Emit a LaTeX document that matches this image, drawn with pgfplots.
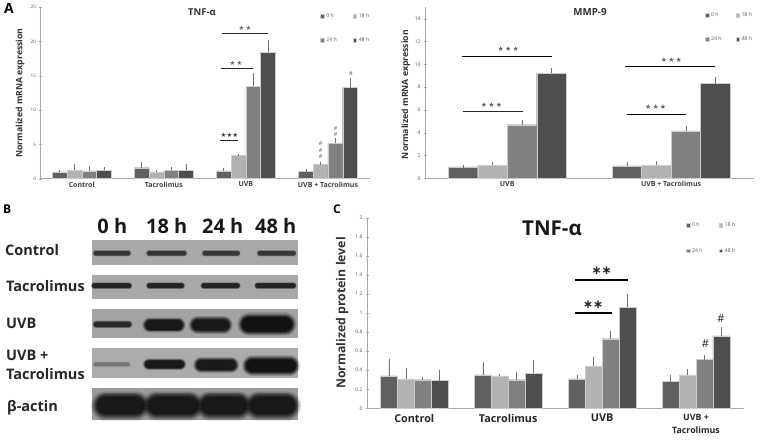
\documentclass[border=0pt]{standalone}
\usepackage{pgfplots}
\usepackage{pgfplotstable}
\usepackage{fontspec}
\pgfplotsset{compat=1.18}
\setmainfont{Open Sans}
\newfontfamily\symf{DejaVu Sans}
\definecolor{cA}{HTML}{606060}
\definecolor{cB}{HTML}{B2B2B2}
\definecolor{cC}{HTML}{808080}
\definecolor{cD}{HTML}{4E4E4E}
\definecolor{axc}{HTML}{A8A8A8}
\definecolor{tk}{HTML}{555555}

% x, then value and upper error of 0 h, 18 h, 24 h, 48 h
\pgfplotstableread{
x a ae b be c ce d de
0 1.00 0.15 1.30 0.70 1.15 0.55 1.20 0.30
1 1.60 0.70 1.00 0.15 1.20 0.30 1.25 0.70
2 1.15 0.25 3.40 0.10 13.50 1.70 18.45 1.55
3 1.05 0.20 2.10 0.10 5.15 0.55 13.30 1.15
}\tnfm
\pgfplotstableread{
x a ae b be c ce d de
0 1.00 0.05 1.15 0.15 4.70 0.30 9.20 0.40
1 1.10 0.20 1.15 0.25 4.15 0.35 8.30 0.45
}\mmp
\pgfplotstableread{
x a ae b be c ce d de
0 0.34 0.16 0.31 0.10 0.30 0.02 0.29 0.10
1 0.35 0.12 0.34 0.01 0.30 0.07 0.37 0.12
2 0.31 0.03 0.44 0.09 0.73 0.07 1.06 0.13
3 0.28 0.06 0.35 0.05 0.51 0.04 0.76 0.08
}\tnfp

\pgfplotsset{
  panel/.style={
    scale only axis, clip=false,
    axis lines=left, axis line style={draw=axc,-},
    tick style={draw=axc},
    ymin=0,
    xtick style={draw=none},
    ytick pos=left, xtick pos=bottom,
    minor tick length=1.5pt, major tick length=2.5pt,
    minor x tick style={draw=axc},
    minor tick style={draw=axc},
    /pgf/number format/assume math mode=true,
    legend columns=2, legend cell align=left,
    legend image code/.code={\fill[##1] (0pt,-1.8pt) rectangle (3.6pt,1.8pt);},
  },
  bars/.style={ybar, bar width=0.18, bar shift=0pt, draw=black!20, line width=0.4pt, fill=#1,
    error bars/y dir=plus, error bars/y explicit,
    error bars/error bar style={draw=black!55, line width=0.5pt},
    error bars/error mark options={draw=black!55, mark size=1.2pt, line width=0.5pt}},
}
\newcommand\fourbars[1]{%
  \addplot[bars=cA] table[x expr=\thisrow{x}-0.27,y=a,y error=ae] {#1};
  \addplot[bars=cB] table[x expr=\thisrow{x}-0.09,y=b,y error=be] {#1};
  \addplot[bars=cC] table[x expr=\thisrow{x}+0.09,y=c,y error=ce] {#1};
  \addplot[bars=cD] table[x expr=\thisrow{x}+0.27,y=d,y error=de] {#1};
}
% Western-blot band, in zoomed px of panel B: x1 x2 y thickness grey
\newcommand\band[5]{%
  \pgfmathsetmacro\bth{#4/3}
  \pgfmathsetmacro\xa{(#1+#4/2)/3}
  \pgfmathsetmacro\xb{(#2-#4/2)/3}
  \pgfmathsetmacro\yb{245-#3/3}
  \foreach \w/\o in {1.32/0.10,1.24/0.12,1.16/0.16,1.08/0.2,1.0/0.28,0.92/0.36,0.84/0.5,0.76/0.7}{
    \draw[line cap=round,line width=\w*\bth pt,draw=#5,opacity=\o] (\xa,\yb)--(\xb,\yb);}
}
\newcommand\blot[3]{\fill[#3] (91.7,{245-#1/3}) rectangle (298.3,{245-#2/3});}
\newcommand\hashA[2]{\node[font=\fontsize{5.5}{6}\selectfont,text=black!65] at (axis cs:#1,#2) {\#};}
\newcommand\starsM[2]{\node[font=\symf\fontsize{7}{8}\selectfont,text=black!60] at (axis cs:#1,#2) {★\,★\,★};}

\begin{document}
\begin{tikzpicture}[x=1pt,y=1pt]
\path[use as bounding box] (0,0) rectangle (761,440);

% ---------- A left
\begin{axis}[panel, at={(40.7pt,261.3pt)}, width=328.3pt, height=171.4pt,
  xmin=-0.5, xmax=3.5, ymax=25,
  xtick={0,1,2,3}, xticklabels={Control,Tacrolimus,UVB,UVB + Tacrolimus},
  minor xtick={-0.5,0.5,1.5,2.5,3.5},
  ytick={0,5,10,15,20,25}, minor ytick={1,2,3,4,6,7,8,9,11,12,13,14,16,17,18,19,21,22,23,24},
  yticklabel style={font=\fontsize{4.6}{5}\selectfont, text=tk},
  xticklabel style={font=\fontsize{7}{8}\selectfont\bfseries, text=black!75, yshift=1.5pt},
  ylabel={Normalized mRNA expression},
  ylabel style={font=\fontsize{8.7}{10}\selectfont\bfseries, text=black!80},
  every axis y label/.append style={at={(axis description cs:-0.063,0.5)},anchor=center},
  legend style={at={(0.851,0.978)},anchor=north west,draw=none,fill=none,inner sep=0pt,
    font=\fontsize{5.2}{6}\selectfont, text=tk, row sep=14.5pt,
    /tikz/column 2/.style={column sep=14pt}},
]
\fourbars{\tnfm}
\legend{0 h,18 h,24 h,48 h}
\draw[black!85,line width=0.8pt] (axis cs:1.71,21.15)--(axis cs:2.27,21.15);
\draw[black!85,line width=0.8pt] (axis cs:1.70,16.1)--(axis cs:2.09,16.1);
\draw[black!85,line width=1pt] (axis cs:1.69,5.5)--(axis cs:1.906,5.5);
\node[font=\symf\fontsize{6.5}{7}\selectfont,text=black!60] at (axis cs:1.99,21.95) {★\,★};
\node[font=\symf\fontsize{6.5}{7}\selectfont,text=black!60] at (axis cs:1.88,16.85) {★\,★};
\node[font=\symf\fontsize{6.5}{7}\selectfont,text=black!75] at (axis cs:1.80,6.4) {★★★};
\hashA{3.28}{15.3}\hashA{3.095}{7.35}\hashA{3.095}{6.4}\hashA{2.91}{5.06}\hashA{2.91}{4.18}\hashA{2.91}{3.2}
\end{axis}
\node[font=\fontsize{9.5}{11}\selectfont\bfseries,text=black!80] at (202,{440-12}) {TNF-α};

% ---------- A right
\begin{axis}[panel, at={(425.3pt,261.7pt)}, width=327.7pt, height=171pt,
  xmin=-0.5, xmax=1.5, ymax=15,
  xtick={0,1}, xticklabels={UVB,UVB + Tacrolimus},
  minor xtick={-0.5,0.5,1.5},
  ytick={0,2,4,6,8,10,12,14}, minor ytick={1,3,5,7,9,11,13},
  yticklabel style={font=\fontsize{5}{6}\selectfont, text=tk},
  xticklabel style={font=\fontsize{7}{8}\selectfont\bfseries, text=black!75, yshift=1.5pt},
  ylabel={Normalized mRNA expression},
  ylabel style={font=\fontsize{8.7}{10}\selectfont\bfseries, text=black!80},
  every axis y label/.append style={at={(axis description cs:-0.059,0.49)},anchor=center},
  legend style={at={(0.853,0.984)},anchor=north west,draw=none,fill=none,inner sep=0pt,
    font=\fontsize{5.2}{6}\selectfont, text=tk, row sep=15pt,
    /tikz/column 2/.style={column sep=12pt}},
]
\fourbars{\mmp}
\legend{0 h,18 h,24 h,48 h}
\draw[black,line width=1pt] (axis cs:-0.274,10.7)--(axis cs:0.274,10.7);
\draw[black!85,line width=1pt] (axis cs:-0.27,5.83)--(axis cs:0.094,5.83);
\draw[black,line width=1pt] (axis cs:0.72,9.83)--(axis cs:1.27,9.83);
\draw[black,line width=1pt] (axis cs:0.732,5.63)--(axis cs:1.093,5.63);
\starsM{0.006}{11.3}\starsM{-0.096}{6.45}\starsM{1.002}{10.4}\starsM{0.906}{6.27}
\end{axis}
\node[font=\fontsize{9.8}{11}\selectfont\bfseries,text=black!80] at (590,{440-12.5}) {MMP-9};

% ---------- C
\begin{axis}[panel, at={(367.3pt,31.7pt)}, width=375.7pt, height=190.6pt,
  xmin=-0.5, xmax=3.5, ymax=2,
  xtick={0,1,2,3},
  xticklabels={Control,Tacrolimus,UVB,{\fontsize{8.8}{12.7}\selectfont UVB +\\\fontsize{8.8}{12.7}\selectfont Tacrolimus}},
  minor xtick={-0.5,0.5,1.5,2.5,3.5},
  ytick={0,0.2,0.4,0.6,0.8,1,1.2,1.4,1.6,1.8,2},
  yticklabels={0,0.2,0.4,0.6,0.8,1,1.2,1.4,1.6,1.8,2},
  minor y tick num=3,
  yticklabel style={font=\fontsize{5}{6}\selectfont, text=tk},
  xticklabel style={font=\fontsize{10.8}{13}\selectfont\bfseries, text=black!85, align=center, yshift=-1pt},
  ylabel={Normalized protein level},
  ylabel style={font=\fontsize{12.3}{14}\selectfont\bfseries, text=black!80},
  every axis y label/.append style={at={(axis description cs:-0.067,0.5)},anchor=center},
  legend style={at={(0.848,0.988)},anchor=north west,draw=none,fill=none,inner sep=0pt,
    font=\fontsize{5.2}{6}\selectfont, text=tk, row sep=16.5pt,
    /tikz/column 2/.style={column sep=14pt}},
]
\fourbars{\tnfp}
\legend{0 h,18 h,24 h,48 h}
\draw[black,line width=1.7pt] (axis cs:1.716,1.346)--(axis cs:2.277,1.346);
\draw[black,line width=1.7pt] (axis cs:1.716,1.0)--(axis cs:2.106,1.0);
\node[font=\symf\fontsize{12}{13}\selectfont\bfseries,text=black!85] at (axis cs:1.996,1.44) {∗∗};
\node[font=\symf\fontsize{12}{13}\selectfont\bfseries,text=black!85] at (axis cs:1.904,1.084) {∗∗};
\node[font=\fontsize{11}{12}\selectfont,text=black!85] at (axis cs:3.10,0.675) {\#};
\node[font=\fontsize{11}{12}\selectfont,text=black!85] at (axis cs:3.266,0.944) {\#};
\end{axis}
\node[font=\fontsize{20.5}{24}\selectfont\bfseries,text=black!90] at (552,{440-228}) {TNF-α};

% ---------- B : western blot
\blot{135}{210}{black!34}
\blot{240}{313}{black!34}
\blot{343}{430}{black!36}
\blot{460}{550}{black!33}
\blot{580}{675}{black!40}
\foreach \a/\b in {280/392,440/560,607/720,772/888}{\band{\a}{\b}{175}{15}{black!80}}
\foreach \a/\b in {275/395,440/553,603/720,765/888}{\band{\a}{\b}{272}{16}{black!88}}
\band{280}{395}{388}{18}{black!85}
\band{432}{552}{390}{36}{black!92}
\band{572}{692}{390}{42}{black!92}
\band{720}{882}{388}{54}{black!95}
\band{280}{390}{508}{12}{black!55}
\band{432}{555}{508}{28}{black!92}
\band{585}{712}{510}{38}{black!92}
\band{733}{893}{512}{48}{black!95}
\foreach \a/\b in {283/440,436/602,596/748,742/893}{\band{\a}{\b}{632}{68}{black!92}}
\foreach \xx/\lab in {112.3/0 h,166.7/18 h,222.7/24 h,275.7/48 h}
  \node[font=\fontsize{20}{24}\selectfont\bfseries,text=black!90] at (\xx,{440-226}) {\lab};
\def\rowlbl#1#2#3{\node[anchor=west,inner sep=0pt,font=\fontsize{14.5}{17}\selectfont\bfseries,text=black!85] at (#1,{245-#2/3}) {#3};}
\rowlbl{5}{166}{Control}
\rowlbl{6}{272}{Tacrolimus}
\rowlbl{6}{384}{UVB}
\rowlbl{6}{480}{UVB +}
\rowlbl{6}{537}{Tacrolimus}
\rowlbl{7}{638}{β-actin}
% ---------- panel letters
\node[anchor=west,inner sep=0pt,font=\fontsize{14}{16}\selectfont\bfseries] at (4,{440-8}) {A};
\node[anchor=west,inner sep=0pt,font=\fontsize{12}{14}\selectfont\bfseries] at (3,{440-209}) {B};
\node[anchor=west,inner sep=0pt,font=\fontsize{12}{14}\selectfont\bfseries] at (333,{440-209}) {C};
\end{tikzpicture}
\end{document}
